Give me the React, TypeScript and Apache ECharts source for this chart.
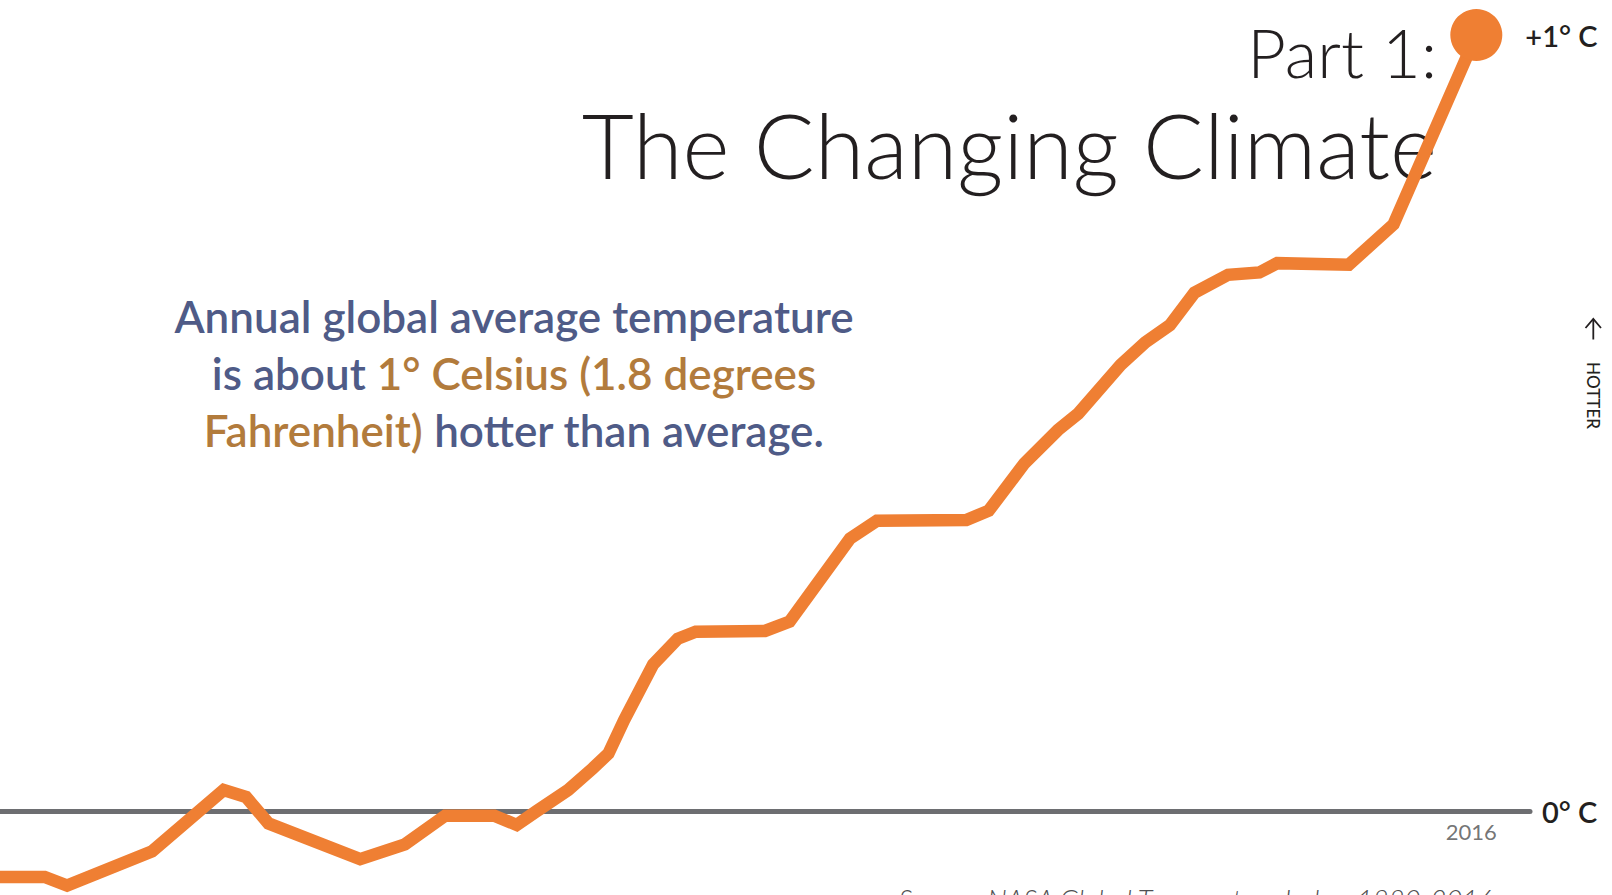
import React, { useEffect, useRef } from "react";
import * as echarts from "echarts";

// Annual global temperature anomaly (°C, relative to the long-term average)
const years = [
  1950, 1952.0, 1953.0, 1956.8, 1960.0, 1961.0, 1962.0, 1966.1, 1968.1, 1969.9,
  1972.1, 1973.1, 1974.0, 1975.4, 1976.5, 1977.2, 1977.9, 1979.2, 1980.3, 1981.1,
  1984.2, 1985.3, 1988.0, 1989.2, 1993.2, 1994.2, 1995.8, 1997.3, 1998.2, 2000.1,
  2001.2, 2002.3, 2003.4, 2004.9, 2006.3, 2007.1, 2010.3, 2012.3, 2016,
];
const anomalies = [
  -0.085, -0.085, -0.096, -0.052, 0.027, 0.018, -0.016, -0.062, -0.043, -0.006,
  -0.006, -0.018, 0.0, 0.027, 0.055, 0.074, 0.117, 0.189, 0.222, 0.231,
  0.232, 0.244, 0.351, 0.374, 0.375, 0.387, 0.448, 0.491, 0.512, 0.575,
  0.604, 0.626, 0.668, 0.691, 0.694, 0.706, 0.704, 0.756, 1.0,
];

const YEAR_MIN = 1950;
const YEAR_MAX = 2018.4;
const YEAR_STEP = 2;
const TEMP_MIN = -0.1;
const TEMP_MAX = 1.0;
const TEMP_STEP = 0.1;
const LAST_YEAR = 2016;
const ZERO_LABEL = "0° C";
const END_LABEL = "+1° C";

const TITLE_PART = "Part 1:";
const TITLE_MAIN = "The Changing Climate";
const SOURCE_TEXT = "Source: NASA Global Temperature Index, 1880-2016";
const SIDE_LABEL = "HOTTER";
const BLURB =
  "{b|Annual global average temperature}\n" +
  "{b|is about }{o|1° Celsius (1.8 degrees}\n" +
  "{o|Fahrenheit)}{b| hotter than average.}";

const ORANGE = "#ef7f33";
const GREY_LINE = "#6d6e71";
const INK = "#231f20";
const MUTED = "#4f5052";
const BLUE = "#4f5b87";
const GOLD = "#b27b3c";
const FONT = "Lato, 'Open Sans', sans-serif";

export default function App() {
  const ref = useRef<HTMLDivElement>(null);

  useEffect(() => {
    if (!ref.current) return;
    const chart = echarts.init(ref.current, undefined, { renderer: "svg" });
    const last = years.length - 1;

    const blurbStyle = (fill: string) => ({
      fill,
      fontSize: 44,
      fontFamily: FONT,
      fontWeight: 600,
      lineHeight: 57,
      align: "center",
    });

    chart.setOption({
      animation: false,
      backgroundColor: "#ffffff",
      grid: {
        left: 0,
        right: 82,
        top: 35,
        bottom: 6.4,
        containLabel: false,
        outerBoundsMode: "none",
      },
      xAxis: {
        type: "value",
        min: YEAR_MIN,
        max: YEAR_MAX,
        interval: YEAR_STEP,
        axisLine: { show: true, onZero: true, lineStyle: { color: GREY_LINE, width: 5 } },
        axisTick: { show: false },
        splitLine: { show: false },
        axisLabel: { show: false },
      },
      yAxis: {
        type: "value",
        min: TEMP_MIN,
        max: TEMP_MAX,
        interval: TEMP_STEP,
        position: "right",
        axisLine: { show: false },
        axisTick: { show: false },
        splitLine: { show: false },
        axisLabel: {
          margin: 12,
          formatter: (v: number) => (Math.abs(v) < 1e-6 ? ZERO_LABEL : ""),
          color: INK,
          fontFamily: FONT,
          fontWeight: 600,
          fontSize: 29,
        },
      },
      series: [
        {
          type: "line",
          data: years.map((y, i) => [y, anomalies[i]]),
          symbol: "none",
          clip: false,
          z: 3,
          lineStyle: { color: ORANGE, width: 12.5, join: "miter", cap: "butt" },
        },
        {
          // end-year marker on the zero line, carrying the year label
          type: "scatter",
          data: [[LAST_YEAR, 0]],
          symbolSize: 1,
          clip: false,
          silent: true,
          z: 2,
          itemStyle: { color: "rgba(0,0,0,0)" },
          label: {
            show: true,
            position: "bottom",
            distance: 9,
            offset: [-5, 0],
            formatter: String(LAST_YEAR),
            color: MUTED,
            fontFamily: FONT,
            fontWeight: 400,
            fontSize: 22,
          },
        },
        {
          type: "scatter",
          data: [[years[last], anomalies[last]]],
          symbolSize: 52,
          clip: false,
          z: 4,
          itemStyle: { color: ORANGE, opacity: 1 },
          label: {
            show: true,
            position: "right",
            distance: 23,
            formatter: END_LABEL,
            color: INK,
            fontFamily: FONT,
            fontWeight: 600,
            fontSize: 29,
          },
        },
      ],
      graphic: [
        {
          type: "text",
          x: 1437,
          y: 52,
          style: {
            text: TITLE_PART,
            align: "right",
            verticalAlign: "middle",
            fill: INK,
            fontFamily: FONT,
            fontWeight: 300,
            fontSize: 67,
          },
        },
        {
          type: "text",
          x: 1437,
          y: 144,
          style: {
            text: TITLE_MAIN,
            align: "right",
            verticalAlign: "middle",
            fill: INK,
            fontFamily: FONT,
            fontWeight: 300,
            fontSize: 90,
          },
        },
        {
          type: "text",
          x: 514,
          y: 372.5,
          style: {
            text: BLURB,
            align: "center",
            verticalAlign: "middle",
            rich: { b: blurbStyle(BLUE), o: blurbStyle(GOLD) },
          },
        },
        {
          type: "polyline",
          shape: { points: [[1585.5, 328], [1593.3, 319], [1601, 328]] },
          style: { stroke: INK, lineWidth: 1.8, fill: null },
        },
        {
          type: "line",
          shape: { x1: 1593.3, y1: 319, x2: 1593.3, y2: 339.5 },
          style: { stroke: INK, lineWidth: 1.8 },
        },
        {
          type: "text",
          x: 1593.3,
          y: 395.5,
          rotation: -Math.PI / 2,
          style: {
            text: SIDE_LABEL,
            align: "center",
            verticalAlign: "middle",
            fill: INK,
            fontFamily: FONT,
            fontWeight: 500,
            fontSize: 17,
          },
        },
        {
          type: "text",
          x: 1493,
          y: 899,
          style: {
            text: SOURCE_TEXT,
            align: "right",
            verticalAlign: "middle",
            fill: MUTED,
            fontFamily: FONT,
            fontStyle: "italic",
            fontWeight: 300,
            fontSize: 27.5,
          },
        },
      ],
    });

    return () => chart.dispose();
  }, []);

  return (
    <div
      ref={ref}
      style={{ position: "absolute", left: 0, top: 0, width: 1612, height: 895, background: "#ffffff" }}
    />
  );
}
